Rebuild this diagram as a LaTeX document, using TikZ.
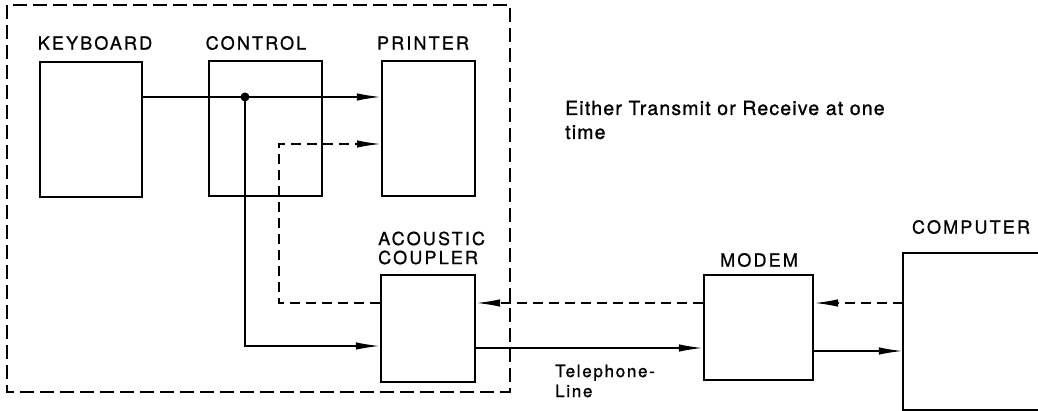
\documentclass[tikz,border=0pt]{standalone}
\usepackage{fontspec}
\setmainfont{TeX Gyre Heros}
\newfontfamily\labfont[LetterSpace=12,FakeBold=1]{TeX Gyre Heros}
\newfontfamily\notefont[LetterSpace=6,FakeBold=1]{TeX Gyre Heros}
\newfontfamily\telfont[LetterSpace=10,FakeBold=1]{TeX Gyre Heros}
\usetikzlibrary{arrows.meta}
\begin{document}
\begin{tikzpicture}[x=1pt,y=-1pt,
  blk/.style={draw,line width=2.2pt,rectangle,inner sep=0pt},
  lab/.style={font=\labfont\fontsize{18}{20}\selectfont,inner sep=0pt},
  tip/.tip={Latex[length=24pt,width=7.5pt]},
  arr/.style={line width=1.6pt,-tip},
  darr/.style={line width=1.6pt,dash pattern=on 10pt off 6pt,-tip},
  outer/.style={line width=1.6pt,dash pattern=on 14pt off 6pt}]
\useasboundingbox (0,0) rectangle (1038,411);
% outer dashed frame
\draw[outer] (7,5) rectangle (510,392);
% blocks
\node[blk,minimum width=102pt,minimum height=135pt] (kb) at (91,129.5) {};
\node[blk,minimum width=113pt,minimum height=135pt] (ct) at (265.5,128.5) {};
\node[blk,minimum width=93pt,minimum height=135pt] (pr) at (428.5,128.5) {};
\node[blk,minimum width=94pt,minimum height=107pt] (ac) at (428,328.5) {};
\node[blk,minimum width=109pt,minimum height=105pt] (md) at (758.5,327.5) {};
\node[inner sep=0pt,minimum width=135pt,minimum height=157pt] (cp) at (970.5,331.5) {};
\draw[line width=2.2pt] (cp.north east) -- (cp.north west) -- (cp.south west) -- (cp.south east);
% labels
\node[lab] (lkb) at (95,43) {KEYBOARD};
\node[lab] (lct) at (256,43) {CONTROL};
\node[lab] (lpr) at (423,43) {PRINTER};
\node[lab,anchor=west,align=left] (lac) at (378,248) {ACOUSTIC\\[-1pt]COUPLER};
\node[lab] (lmd) at (759,260) {MODEM};
\node[lab] (lcp) at (971,227) {COMPUTER};
\node[anchor=west,align=left,inner sep=0pt,font=\telfont\fontsize{17}{20}\selectfont] (tl) at (555,381) {Telephone-\\Line};
\node[anchor=west,align=left,inner sep=0pt,font=\notefont\fontsize{19.5}{24}\selectfont] (note) at (565,120) {Either Transmit or Receive at one\\time};
% connectors
\coordinate (dot) at (245,97);
\coordinate (bend) at (279,144);
\draw[arr] (kb.east |- dot) -- (pr.west |- dot);
\fill (dot) circle (4.5pt);
\draw[arr] (dot) |- ([yshift=-17.5pt]ac.west);
\draw[darr] ([yshift=25.5pt]ac.west) -| (bend) -- (pr.west |- bend);
\coordinate (d1) at ([yshift=25.5pt]ac.east);
\coordinate (s1) at ([yshift=-19.5pt]ac.east);
\draw[darr] (md.west |- d1) -- (d1);
\draw[arr] (s1) -- (md.west |- s1);
\coordinate (d2) at ([yshift=24.5pt]md.east);
\coordinate (s2) at ([yshift=-23.5pt]md.east);
\draw[darr] (cp.west |- d2) -- (d2);
\draw[arr] (s2) -- (cp.west |- s2);
\end{tikzpicture}
\end{document}
